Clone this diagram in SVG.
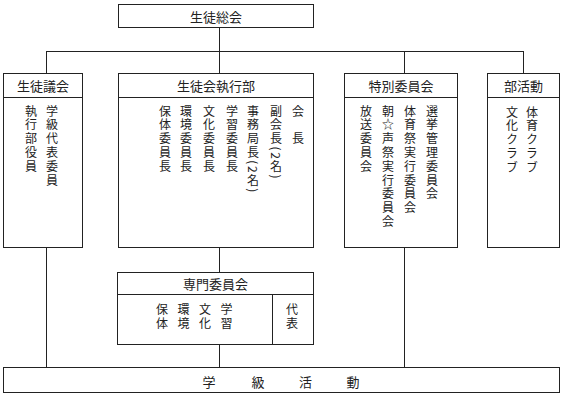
<svg xmlns="http://www.w3.org/2000/svg" width="567" height="400" viewBox="0 0 567 400">
<style>
rect{fill:#fff;stroke:#222;stroke-width:1}
line{stroke:#222;stroke-width:1}
text{font-family:"Noto Sans CJK JP","Noto Sans CJK SC",sans-serif;fill:#222}
.h{font-size:13px;text-anchor:middle;dominant-baseline:central}
.v{font-size:12px;writing-mode:vertical-rl;letter-spacing:1.8px}
.s{font-size:12px;writing-mode:vertical-rl;letter-spacing:2px}
</style>
<rect width="567" height="400" style="fill:#fff;stroke:none"/>
<g id="connectors">
<line x1="219.5" y1="27" x2="219.5" y2="73"/>
<line x1="46.5" y1="51.5" x2="523.5" y2="51.5"/>
<line x1="46.5" y1="51" x2="46.5" y2="73"/>
<line x1="404.5" y1="51" x2="404.5" y2="73"/>
<line x1="523.5" y1="51" x2="523.5" y2="73"/>
<line x1="46.5" y1="247" x2="46.5" y2="367"/>
<line x1="219.5" y1="247" x2="219.5" y2="272"/>
<line x1="219.5" y1="344" x2="219.5" y2="367"/>
<line x1="404.5" y1="247" x2="404.5" y2="367"/>
</g>
<g id="sotokai">
<rect x="118.5" y="4.5" width="195" height="23"/>
<text class="h" x="216" y="16">生徒総会</text>
</g>
<g id="seitogikai">
<rect x="3.5" y="73.5" width="79" height="174"/>
<line x1="3.5" y1="97.5" x2="82.5" y2="97.5"/>
<text class="h" x="43" y="85.5">生徒議会</text>
<text class="v" x="52" y="105">学級代表委員</text>
<text class="v" x="31" y="105">執行部役員</text>
</g>
<g id="shikkoubu">
<rect x="118.5" y="73.5" width="195" height="174"/>
<line x1="118.5" y1="97.5" x2="313.5" y2="97.5"/>
<text class="h" x="216" y="85.5">生徒会執行部</text>
<text class="v" x="298" y="105">会　長</text>
<text class="v" x="276" y="105">副会長(2名)</text>
<text class="v" x="253" y="105">事務局長(2名)</text>
<text class="v" x="232" y="105">学習委員長</text>
<text class="v" x="209" y="105">文化委員長</text>
<text class="v" x="186" y="105">環境委員長</text>
<text class="v" x="165" y="105">保体委員長</text>
</g>
<g id="tokubetsu">
<rect x="344.5" y="73.5" width="113" height="174"/>
<line x1="344.5" y1="97.5" x2="457.5" y2="97.5"/>
<text class="h" x="401" y="85.5">特別委員会</text>
<text class="v" x="432" y="105">選挙管理委員会</text>
<text class="v" x="410" y="105">体育祭実行委員会</text>
<text class="v" x="388" y="105">朝☆声祭実行委員会</text>
<text class="v" x="366" y="105">放送委員会</text>
</g>
<g id="bukatsudo">
<rect x="487.5" y="73.5" width="72" height="174"/>
<line x1="487.5" y1="97.5" x2="559.5" y2="97.5"/>
<text class="h" x="523.5" y="85.5">部活動</text>
<text class="v" x="532" y="106">体育クラブ</text>
<text class="v" x="512" y="106">文化クラブ</text>
</g>
<g id="senmon">
<rect x="117.5" y="272.5" width="196" height="72"/>
<line x1="117.5" y1="294.5" x2="313.5" y2="294.5"/>
<line x1="272.5" y1="294.5" x2="272.5" y2="344.5"/>
<text class="h" x="215.5" y="283.5">専門委員会</text>
<text class="s" x="162" y="303">保体</text>
<text class="s" x="183.5" y="303">環境</text>
<text class="s" x="205" y="303">文化</text>
<text class="s" x="226.5" y="303">学習</text>
<text class="s" x="292" y="303">代表</text>
</g>
<g id="gakkyu">
<rect x="3.5" y="367.5" width="556" height="25"/>
<text class="h" x="209 258 305.5 353" y="381">学級活動</text>
</g>
</svg>
